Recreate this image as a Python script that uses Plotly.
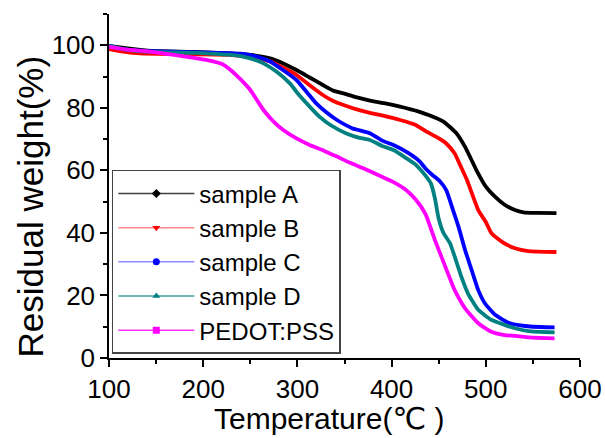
import plotly.graph_objects as go

# ---- data ----
names = ["sample A", "sample B", "sample C", "sample D", "PEDOT:PSS"]

t_a = [100, 120, 145, 190, 228, 250, 271, 285, 299, 313, 327, 338, 349, 362, 377, 392, 409, 429, 440, 455, 469, 478, 490, 500, 510, 520, 531, 540, 555, 575]
w_a = [99.8, 99.0, 98.2, 97.9, 97.4, 96.9, 95.8, 94.2, 92.1, 89.7, 87.3, 85.5, 84.6, 83.4, 82.3, 81.5, 80.4, 78.8, 77.6, 75.6, 71.8, 67.5, 60.1, 54.8, 51.5, 49.0, 47.3, 46.6, 46.4, 46.3]

t_b = [100, 115, 133, 180, 228, 250, 271, 285, 299, 313, 327, 338, 349, 362, 377, 392, 409, 425, 437, 448, 458, 467, 473, 480, 492, 500, 506, 518, 531, 545, 575]
w_b = [98.8, 98.0, 97.4, 97.1, 96.9, 96.2, 94.8, 92.8, 90.5, 87.2, 84.1, 82.2, 80.9, 79.6, 78.4, 77.4, 76.1, 74.6, 72.4, 70.6, 68.6, 65.4, 61.5, 56.9, 47.3, 43.5, 39.9, 37.0, 35.1, 34.2, 33.9]

t_c = [100, 115, 140, 190, 240, 258, 271, 285, 299, 310, 320, 331, 342, 358, 377, 390, 402, 418, 430, 436, 443, 451, 458, 464, 471, 478, 485, 492, 499, 510, 524, 535, 550, 573]
w_c = [99.8, 98.8, 98.2, 97.8, 97.3, 96.3, 94.8, 92.0, 88.9, 85.0, 81.4, 78.5, 76.1, 73.5, 71.9, 69.5, 68.1, 65.5, 62.8, 60.6, 58.6, 56.6, 53.7, 48.4, 42.0, 34.5, 28.1, 21.7, 17.5, 13.8, 11.3, 10.5, 10.0, 9.8]

t_d = [100, 115, 140, 190, 235, 250, 264, 278, 292, 302, 313, 324, 335, 352, 366, 377, 390, 402, 415, 426, 436, 442, 446, 450, 455, 462, 467, 474, 481, 492, 506, 520, 531, 545, 573]
w_d = [99.8, 98.8, 98.0, 97.6, 96.8, 95.8, 94.2, 91.5, 87.8, 84.0, 80.4, 77.0, 74.5, 71.8, 70.4, 69.7, 67.8, 66.5, 64.0, 61.7, 58.3, 55.6, 51.0, 44.5, 40.0, 36.7, 32.4, 26.0, 20.7, 15.4, 12.2, 10.6, 9.5, 8.6, 8.2]

t_e = [100, 120, 143, 181, 203, 220, 229, 240, 250, 257, 264, 275, 285, 299, 313, 328, 342, 356, 370, 385, 401, 415, 426, 436, 446, 457, 467, 478, 492, 506, 520, 531, 550, 573]
w_e = [99.5, 98.6, 98.0, 96.4, 95.3, 94.0, 92.1, 89.0, 85.7, 82.5, 79.3, 75.5, 72.9, 70.2, 68.1, 66.3, 64.4, 62.4, 60.7, 58.6, 56.4, 53.8, 50.5, 46.0, 37.7, 29.2, 21.7, 15.9, 11.1, 8.4, 7.3, 7.1, 6.5, 6.3]

series_t = [t_a, t_b, t_c, t_d, t_e]
series_w = [w_a, w_b, w_c, w_d, w_e]

x_ticks = [100, 200, 300, 400, 500, 600]
y_ticks = [0, 20, 40, 60, 80, 100]
x_title = "Temperature(<span style='font-family:DejaVu Sans'>℃</span> )"
y_title = "Residual weight(%)"

# ---- styles ----
colors = ["#000000", "#ff0000", "#0000ff", "#008080", "#ff00ff"]
legend_line = ["rgba(0,0,0,0.75)", "rgba(255,60,60,0.6)", "rgba(60,60,255,0.6)",
               "rgba(0,128,128,0.75)", "rgba(255,0,255,0.8)"]
symbols = ["diamond", "triangle-down", "circle", "triangle-up", "square"]

fig = go.Figure()
for i in range(5):
    fig.add_trace(go.Scatter(x=series_t[i], y=series_w[i], mode="lines",
                             line=dict(color=colors[i], width=3.8, shape="spline", smoothing=0.5),
                             showlegend=False, hoverinfo="skip"))
for i in range(5):
    fig.add_trace(go.Scatter(x=[None], y=[None], mode="lines+markers", name=names[i],
                             line=dict(color=legend_line[i], width=1.5),
                             marker=dict(color=colors[i], symbol=symbols[i], size=7),
                             legendgroup=names[i]))

FONT = "Liberation Sans, Arial"
axis_font = dict(family=FONT, size=26, color="#000")
fig.update_layout(
    width=605, height=438,
    margin=dict(l=109, r=25, t=14, b=80),
    paper_bgcolor="white", plot_bgcolor="white",
    font=dict(family=FONT, color="#000"),
    showlegend=True,
    legend=dict(x=0.006, y=0.012, xanchor="left", yanchor="bottom",
                bgcolor="white", bordercolor="#444", borderwidth=1.5,
                font=dict(family=FONT, size=24, color="#000"),
                itemwidth=76, tracegroupgap=0, traceorder="normal"),
    xaxis=dict(range=[100, 600], tickmode="array", tickvals=x_ticks, automargin=False,
               showline=True, linecolor="#000", linewidth=1.5, mirror=False,
               ticks="outside", ticklen=7, tickwidth=1.5, tickcolor="#000",
               minor=dict(tickvals=[150, 250, 350, 450, 550], ticks="outside", ticklen=4, tickwidth=1.5, tickcolor="#000"),
               showgrid=False, zeroline=False, tickfont=axis_font),
    yaxis=dict(range=[0, 110], tickmode="array", tickvals=y_ticks, automargin=False,
               showline=True, linecolor="#000", linewidth=1.5, mirror=False,
               ticks="outside", ticklen=7, tickwidth=1.5, tickcolor="#000",
               minor=dict(tickvals=[10, 30, 50, 70, 90, 110], ticks="outside", ticklen=4, tickwidth=1.5, tickcolor="#000"),
               showgrid=False, zeroline=False, tickfont=axis_font),
    annotations=[
        dict(text=x_title, xref="paper", yref="paper", x=0.467, y=-0.176,
             xanchor="center", yanchor="middle", showarrow=False,
             font=dict(family=FONT, size=30, color="#000")),
        dict(text=y_title, xref="paper", yref="paper", x=-0.166, y=0.44,
             xanchor="center", yanchor="middle", textangle=-90, showarrow=False,
             font=dict(family=FONT, size=35, color="#000")),
    ],
)

fig.write_html("out.html")
